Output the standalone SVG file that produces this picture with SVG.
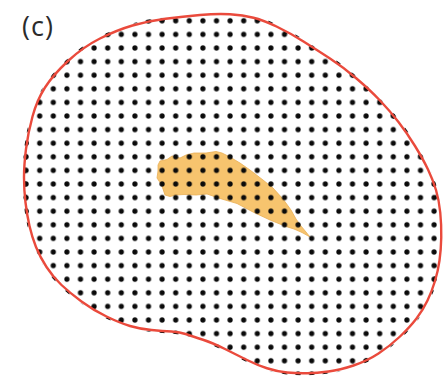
<svg xmlns="http://www.w3.org/2000/svg" width="443" height="378" viewBox="0 0 443 378">
  <style>
    .outline { fill: none; stroke: #EA4A3C; stroke-width: 2.4; stroke-linejoin: round; }
    .dots { fill: url(#dotgrid); stroke: url(#dotgrid); stroke-width: 4; }
    .blob { fill: #F7C46E; stroke: #E8AE55; stroke-width: 0.8; stroke-linejoin: round; }
    .label { font-family: "Open Sans", "Liberation Sans", sans-serif; font-size: 27px; fill: #2b2b2b; letter-spacing: 1px; }
  </style>
  <defs>
    <pattern id="dotgrid" patternUnits="userSpaceOnUse" x="19.3" y="14" width="13.6" height="13.6">
      <circle cx="6.8" cy="6.8" r="2.6" fill="#0a0a0a"/>
    </pattern>
  </defs>
  <rect width="443" height="378" fill="#ffffff"/>
  <g id="region-orange">
    <polygon class="blob" points="158,165 160,161 167,159.5 172,156 180,158 186,155 194,153 206,153 216,151.5 222,153 229,156.5 240,163 250,170 263,180 273,188 283,199 291,210 296,219 301,226 306,232 310,237 302,232.5 294,229 286,226.5 270,220 253,212 237,203.5 220,198.5 207,194 196,195 184,194.5 176,195 170,196.5 165,195 163,189 161,184 157,178 158,171"/>
  </g>
  <g id="domain">
    <path id="domain-dots" class="dots" d="M132.5,25.5 Q148,21 165.5,18.75 Q183,16.5 200,15 Q217,13.5 230,14.25 Q243,15 253.5,17.750 Q264,20.5 277,26.75 Q290,33 303.5,41.5 Q317,50 330,58.5 Q343,67 356.5,78.5 Q370,90 380,100.5 Q390,111 398.5,122 Q407,133 415,146 Q423,159 428,169.5 Q433,180 436,190 Q439,200 440.25,212.5 Q441.5,225 441.25,237.5 Q441,250 439.5,260.5 Q438,271 435,281 Q432,291 427.5,300.5 Q423,310 416.5,318.5 Q410,327 400,336.5 Q390,346 378.5,353.5 Q367,361 353.5,365.5 Q340,370 328.5,371.5 Q317,373 307,373.25 Q297,373.5 287,372.5 Q277,371.5 267,368.25 Q257,365 247,360 Q237,355 225,349 Q213,343 203,339.75 Q193,336.5 186.5,334.25 Q180,332 171.5,331.5 Q163,331 151.5,330 Q140,329 130,326 Q120,323 106.5,316.5 Q93,310 81.5,301.5 Q70,293 61.5,285 Q53,277 46.5,267 Q40,257 36,247 Q32,237 29.5,226 Q27,215 25.5,202.5 Q24,190 24,177.5 Q24,165 26,149 Q28,133 32.5,116.5 Q37,100 45,87.5 Q53,75 68,61 Q83,47 100,38.5 Q117,30 132.5,25.5 Z"/>
    <path id="domain-outline" class="outline" d="M132.5,25.5 Q148,21 165.5,18.75 Q183,16.5 200,15 Q217,13.5 230,14.25 Q243,15 253.5,17.75 Q264,20.5 277,26.75 Q290,33 303.5,41.5 Q317,50 330,58.5 Q343,67 356.5,78.5 Q370,90 380,100.5 Q390,111 398.5,122 Q407,133 415,146 Q423,159 428,169.5 Q433,180 436,190 Q439,200 440.25,212.5 Q441.5,225 441.25,237.5 Q441,250 439.5,260.5 Q438,271 435,281 Q432,291 427.5,300.5 Q423,310 416.5,318.5 Q410,327 400,336.5 Q390,346 378.5,353.5 Q367,361 353.5,365.5 Q340,370 328.5,371.5 Q317,373 307,373.25 Q297,373.5 287,372.5 Q277,371.5 267,368.25 Q257,365 247,360 Q237,355 225,349 Q213,343 203,339.75 Q193,336.5 186.5,334.25 Q180,332 171.5,331.5 Q163,331 151.5,330 Q140,329 130,326 Q120,323 106.5,316.5 Q93,310 81.5,301.5 Q70,293 61.5,285 Q53,277 46.5,267 Q40,257 36,247 Q32,237 29.5,226 Q27,215 25.5,202.5 Q24,190 24,177.5 Q24,165 26,149 Q28,133 32.5,116.5 Q37,100 45,87.5 Q53,75 68,61 Q83,47 100,38.5 Q117,30 132.5,25.5 Z"/>
  </g>
  <text class="label" x="22" y="36">(c)</text>
</svg>
